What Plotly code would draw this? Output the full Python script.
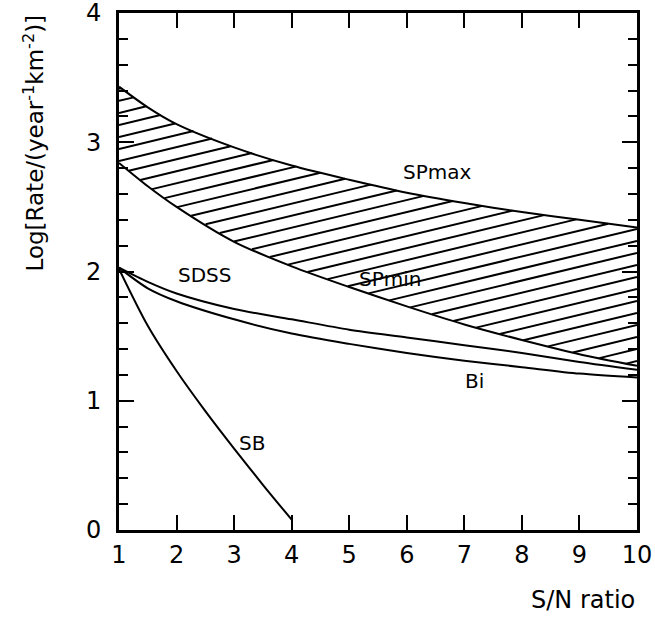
import numpy as np
import plotly.graph_objects as go

# S/N ratio sample points
sn_sp = [1, 1.5, 2, 3, 4, 5, 6, 7, 8, 9, 10]
sp_max = [3.43, 3.27, 3.14, 2.96, 2.82, 2.71, 2.61, 2.53, 2.46, 2.40, 2.34]
sp_min = [2.84, 2.66, 2.50, 2.23, 2.04, 1.88, 1.73, 1.59, 1.47, 1.36, 1.27]

sn_sdss = [1, 1.5, 2, 3, 4, 5, 6, 7, 8, 9, 10]
sdss = [2.03, 1.92, 1.83, 1.71, 1.63, 1.55, 1.49, 1.43, 1.37, 1.30, 1.24]
bi = [2.03, 1.87, 1.77, 1.63, 1.52, 1.44, 1.37, 1.31, 1.26, 1.21, 1.18]

sn_sb = [1, 1.5, 2, 2.5, 3, 3.5, 4]
sb = [2.02, 1.58, 1.23, 0.92, 0.63, 0.35, 0.08]

x_ticks = [1, 2, 3, 4, 5, 6, 7, 8, 9, 10]
y_ticks = [0, 1, 2, 3, 4]

labels = ["SPmax", "SDSS", "SPmin", "Bi", "SB"]
label_x = [6.52, 2.49, 5.71, 7.17, 3.31]
label_y = [2.77, 1.97, 1.94, 1.15, 0.67]

FONT = "DejaVu Sans"
LW = 2

fig = go.Figure()

# hatching between SPmin and SPmax (geometry derived from the two boundaries)
slope = 0.107
spacing = 0.093
xs = np.linspace(1, 10, 1801)
lo = np.interp(xs, sn_sp, sp_min)
hi = np.interp(xs, sn_sp, sp_max)
hx, hy = [], []
c = -0.6
while c < 3.6:
    yl = c + slope * xs
    inside = (yl >= lo) & (yl <= hi)
    if inside.any():
        idx = np.where(inside)[0]
        hx += [xs[idx[0]], xs[idx[-1]], None]
        hy += [yl[idx[0]], yl[idx[-1]], None]
    c += spacing
fig.add_trace(go.Scatter(x=hx, y=hy, mode="lines",
                         line=dict(color="black", width=LW), hoverinfo="skip"))

for xx, yy in [(sn_sp, sp_max), (sn_sp, sp_min), (sn_sdss, sdss),
               (sn_sdss, bi), (sn_sb, sb)]:
    fig.add_trace(go.Scatter(x=xx, y=yy, mode="lines",
                             line=dict(color="black", width=LW, shape="spline",
                                       smoothing=0.8)))

for t, lx, ly in zip(labels, label_x, label_y):
    fig.add_annotation(x=lx, y=ly, text=t, showarrow=False,
                       font=dict(family=FONT, size=20, color="black"))

fig.add_annotation(xref="paper", yref="paper", x=1.0, y=-0.135,
                   xanchor="right", yanchor="middle", text="S/N ratio",
                   showarrow=False, font=dict(family=FONT, size=24, color="black"))
fig.add_annotation(xref="paper", yref="paper", x=-0.166, y=1.0,
                   xanchor="center", yanchor="top", textangle=-90,
                   text="Log[Rate/(year<sup>-1</sup>km<sup>-2</sup>)]",
                   showarrow=False, font=dict(family=FONT, size=23, color="black"))

fig.update_layout(
    width=655, height=619,
    margin=dict(l=119, r=18, t=13, b=89),
    paper_bgcolor="white", plot_bgcolor="white",
    showlegend=False,
    font=dict(family=FONT, size=24, color="black"),
)
fig.update_xaxes(range=[1, 10], tickvals=x_ticks, showgrid=False, zeroline=False,
                 showline=True, linecolor="black", linewidth=3, mirror="allticks",
                 ticks="inside", ticklen=15, tickwidth=2, tickcolor="black",
                 ticklabelstandoff=1, automargin=False, ticklabeloverflow="allow",
                 tickfont=dict(family=FONT, size=24))
fig.update_yaxes(range=[0, 4], tickvals=y_ticks, showgrid=False, zeroline=False,
                 showline=True, linecolor="black", linewidth=3, mirror="allticks",
                 ticks="inside", ticklen=15, tickwidth=2, tickcolor="black",
                 ticklabelstandoff=10, automargin=False, ticklabeloverflow="allow",
                 tickfont=dict(family=FONT, size=24),
                 minor=dict(dtick=0.2, ticks="inside", ticklen=9, tickwidth=2,
                            tickcolor="black", showgrid=False))

fig.write_html("out.html", config={"displayModeBar": False},
               post_script="document.body.style.margin='0';")
